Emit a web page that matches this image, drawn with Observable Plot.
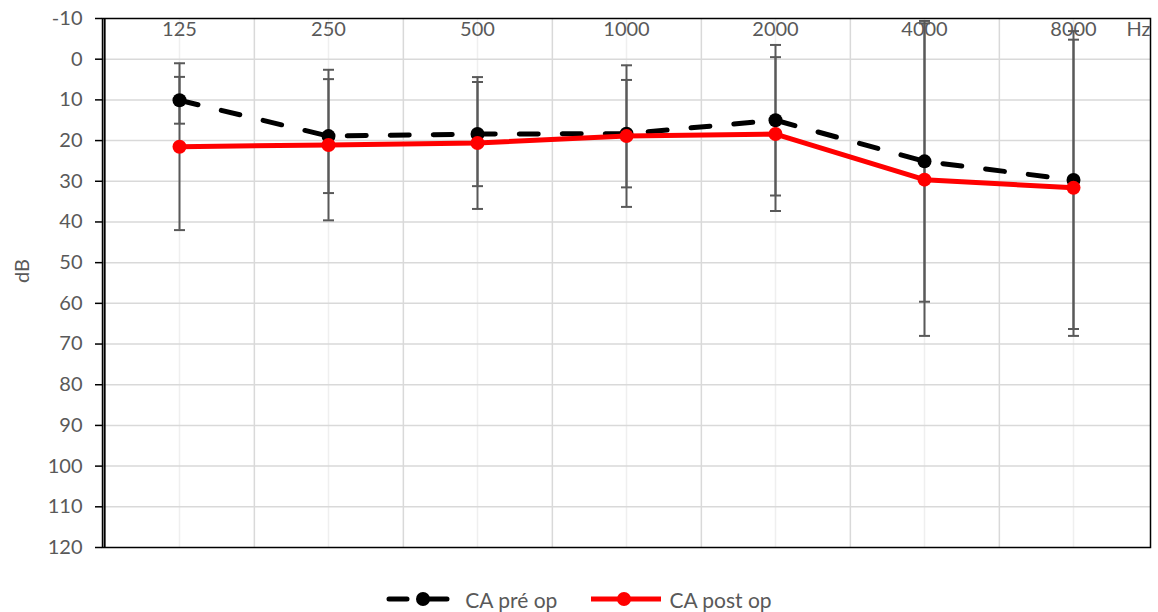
<!DOCTYPE html>
<html><head><meta charset="utf-8">
<script src="https://cdn.jsdelivr.net/npm/d3@7"></script>
<script src="https://cdn.jsdelivr.net/npm/@observablehq/plot@0.6"></script>
<style>
body{margin:0;background:#fff;font-family:Lato,"Open Sans",sans-serif;}
#chart{position:relative;width:1158px;height:612px;overflow:hidden;}
#legend{position:absolute;left:0;top:586px;width:1158px;height:26px;display:flex;justify-content:center;align-items:center;color:#595959;font-size:21px;font-family:Lato,"Open Sans",sans-serif;}
#legend .item{display:flex;align-items:center;}
#legend svg{display:block;}
</style></head><body><div id="chart"></div>
<script>
const frequencies = ["125","250","500","1000","2000","4000","8000"];
const preOp    = [10.1, 18.9, 18.4, 18.3, 15.0, 25.1, 29.7];
const preOpSd  = [5.75, 14.0, 12.8, 13.2, 18.5, 34.5, 36.6];
const postOp   = [21.5, 21.1, 20.6, 18.9, 18.4, 29.6, 31.6];
const postOpSd = [20.5, 18.5, 16.2, 17.4, 18.9, 38.4, 36.4];
const yTicks = [-10, 0, 10, 20, 30, 40, 50, 60, 70, 80, 90, 100, 110, 120];
const seriesNames = ["CA pré op", "CA post op"];

const rows = frequencies.flatMap((f, i) => [
  {freq: f, series: seriesNames[0], db: preOp[i], sd: preOpSd[i]},
  {freq: f, series: seriesNames[1], db: postOp[i], sd: postOpSd[i]}
]);
const pre = rows.filter(d => d.series === seriesNames[0]);
const post = rows.filter(d => d.series === seriesNames[1]);

const W = 1158, H = 560, mL = 102, mR = 8, mT = 18, mB = 13;
const step = (W - mL - mR) / frequencies.length;
const grey = "#595959";
const capSymbol = {draw(ctx) { ctx.moveTo(-5.5, 0); ctx.lineTo(5.5, 0); }};

const chart = Plot.plot({
  width: W, height: H,
  marginLeft: mL, marginRight: mR, marginTop: mT, marginBottom: mB,
  style: {fontFamily: "Lato, 'Open Sans', sans-serif", fontSize: "20px", background: "#fff"},
  x: {type: "point", domain: frequencies, padding: 0.5, axis: null},
  y: {domain: [-10, 120], reverse: true, axis: null},
  marks: [
    Plot.ruleX(frequencies, {stroke: "#efefef", strokeWidth: 1.5}),
    Plot.ruleX(frequencies.slice(0, -1), {dx: step / 2, stroke: "#d9d9d9", strokeWidth: 1.5}),
    Plot.ruleY(yTicks.slice(1, -1), {stroke: "#d9d9d9", strokeWidth: 1.5}),
    Plot.ruleX(rows, {x: "freq", y1: d => d.db - d.sd, y2: d => d.db + d.sd, stroke: grey, strokeWidth: 2}),
    Plot.dot(rows, {x: "freq", y: d => d.db - d.sd, symbol: capSymbol, stroke: grey, strokeWidth: 2, fill: "none"}),
    Plot.dot(rows, {x: "freq", y: d => d.db + d.sd, symbol: capSymbol, stroke: grey, strokeWidth: 2, fill: "none"}),
    Plot.line(pre, {x: "freq", y: "db", stroke: "black", strokeWidth: 5, strokeDasharray: "19,24", strokeLinecap: "round"}),
    Plot.dot(pre, {x: "freq", y: "db", r: 7, fill: "black"}),
    Plot.line(post, {x: "freq", y: "db", stroke: "#ff0000", strokeWidth: 5}),
    Plot.dot(post, {x: "freq", y: "db", r: 7, fill: "#ff0000"}),
    Plot.frame({stroke: "black", strokeWidth: 1.5}),
    Plot.ruleX([frequencies[0]], {dx: -step / 2, stroke: "black", strokeWidth: 2}),
    Plot.axisY(yTicks, {anchor: "left", label: null, tickFormat: d => String(d), tickSize: 7, tickPadding: 13, color: grey, stroke: "black", strokeWidth: 1.5}),
    Plot.text(frequencies, {x: d => d, frameAnchor: "top", dy: 11, lineAnchor: "middle", fill: grey}),
    Plot.text(["Hz"], {frameAnchor: "top-right", dy: 11, lineAnchor: "middle", textAnchor: "end", fill: grey}),
    Plot.text(["dB"], {frameAnchor: "left", dx: -80, rotate: -90, fill: grey})
  ]
});
document.getElementById("chart").appendChild(chart);

const legend = document.createElement("div");
legend.id = "legend";
legend.innerHTML = `
  <div class="item"><svg width="68" height="20"><line x1="3" y1="10" x2="65" y2="10" stroke="black" stroke-width="5" stroke-linecap="round" stroke-dasharray="18,22"/><circle cx="37" cy="10" r="7" fill="black"/></svg><span style="margin-left:11px">${seriesNames[0]}</span></div>
  <div class="item" style="margin-left:32px"><svg width="74" height="20"><line x1="2" y1="10" x2="72" y2="10" stroke="#ff0000" stroke-width="5"/><circle cx="35" cy="10" r="7" fill="#ff0000"/></svg><span style="margin-left:6px">${seriesNames[1]}</span></div>`;
document.getElementById("chart").appendChild(legend);
</script>
</body></html>
